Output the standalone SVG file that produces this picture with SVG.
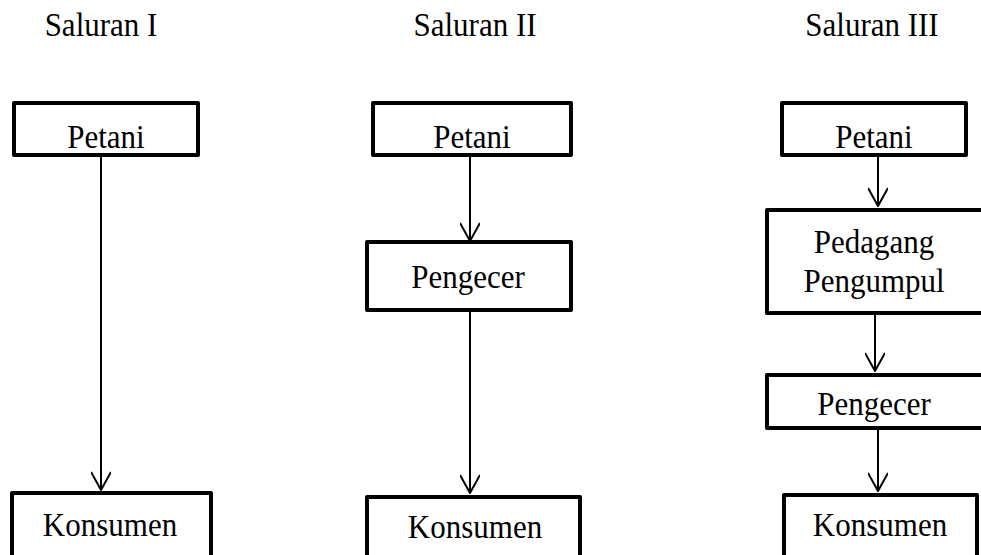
<svg xmlns="http://www.w3.org/2000/svg" width="981" height="555" viewBox="0 0 981 555">
<style>
text{font-family:'Liberation Serif','Times New Roman',serif;font-size:31px;fill:#000;text-anchor:middle}
.box{fill:#fff;stroke:#000;stroke-width:4;stroke-linejoin:round}
.ln{stroke:#000;stroke-width:2;fill:none}
</style>
<defs>
<marker id="ah" viewBox="0 0 20 20" refX="19" refY="10" markerWidth="20" markerHeight="20" markerUnits="userSpaceOnUse" orient="auto">
<path d="M1,0 L19,10 L1,20" fill="none" stroke="#000" stroke-width="2"/>
</marker>
</defs>
<rect width="981" height="555" fill="#fff"/>
<g id="titles">
<text transform="translate(101,36) scale(1,1.1)">Saluran I</text>
<text transform="translate(475,36) scale(1,1.1)">Saluran II</text>
<text transform="translate(872,36) scale(1,1.1)">Saluran III</text>
</g>
<g id="connectors">
<line class="ln" x1="101" y1="157" x2="101" y2="490" marker-end="url(#ah)"/>
<line class="ln" x1="470" y1="157" x2="470" y2="241" marker-end="url(#ah)"/>
<line class="ln" x1="470" y1="312" x2="470" y2="493" marker-end="url(#ah)"/>
<line class="ln" x1="878" y1="157" x2="878" y2="206" marker-end="url(#ah)"/>
<line class="ln" x1="875" y1="315" x2="875" y2="371" marker-end="url(#ah)"/>
<line class="ln" x1="878" y1="430" x2="878" y2="491" marker-end="url(#ah)"/>
</g>
<g id="s1-petani"><rect class="box" x="14" y="103" width="184" height="52"/><text transform="translate(106,148) scale(1,1.1)">Petani</text></g>
<g id="s1-konsumen"><rect class="box" x="12" y="493" width="199" height="80"/><text transform="translate(110,536) scale(1,1.1)">Konsumen</text></g>
<g id="s2-petani"><rect class="box" x="373" y="103" width="198" height="52"/><text transform="translate(472,148) scale(1,1.1)">Petani</text></g>
<g id="s2-pengecer"><rect class="box" x="367" y="242" width="204" height="68"/><text transform="translate(468,288) scale(1,1.1)">Pengecer</text></g>
<g id="s2-konsumen"><rect class="box" x="367" y="497" width="213" height="80"/><text transform="translate(475,538) scale(1,1.1)">Konsumen</text></g>
<g id="s3-petani"><rect class="box" x="782" y="103" width="184" height="52"/><text transform="translate(874,148) scale(1,1.1)">Petani</text></g>
<g id="s3-pedagang"><rect class="box" x="767" y="210" width="230" height="103"/><text transform="translate(874,253) scale(1,1.1)">Pedagang</text><text transform="translate(874,292) scale(1,1.1)">Pengumpul</text></g>
<g id="s3-pengecer"><rect class="box" x="767" y="375" width="230" height="53"/><text transform="translate(874,415) scale(1,1.1)">Pengecer</text></g>
<g id="s3-konsumen"><rect class="box" x="784" y="495" width="193" height="80"/><text transform="translate(880,536) scale(1,1.1)">Konsumen</text></g>
</svg>
